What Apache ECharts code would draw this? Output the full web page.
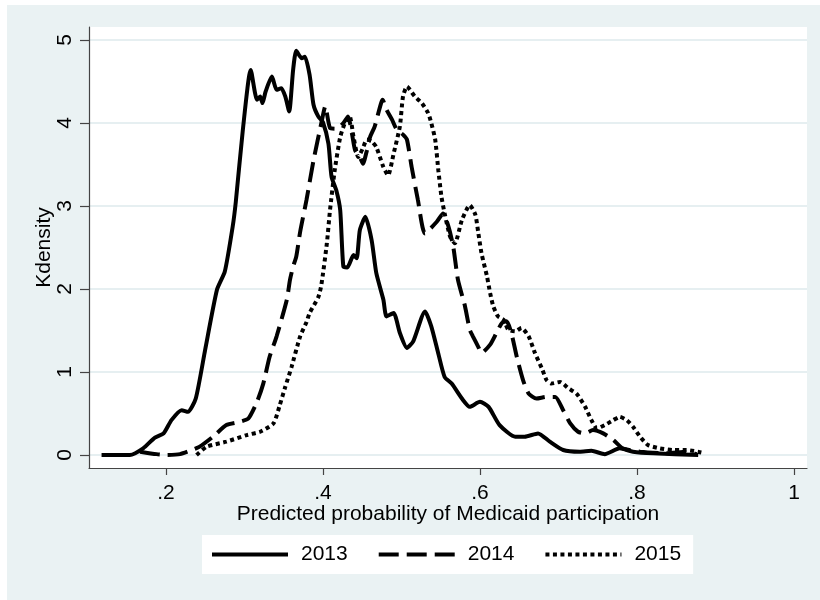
<!DOCTYPE html>
<html>
<head>
<meta charset="utf-8">
<script src="https://cdn.jsdelivr.net/npm/echarts@6/dist/echarts.min.js"></script>
<style>
html,body{margin:0;padding:0;background:#fff;}
#bg{position:absolute;left:7px;top:5px;width:813px;height:595px;background:#EAF2F3;}
#chart{position:absolute;left:0;top:0;width:820px;height:600px;}
</style>
</head>
<body>
<div id="bg"></div>
<div id="chart"></div>
<script>
// Series names
const seriesNames = ['2013', '2014', '2015'];

// Tick values
const xTicks = [0.2, 0.4, 0.6, 0.8, 1];
const yTicks = [0, 1, 2, 3, 4, 5];

// Kernel density estimates: [x, density]
const d2013 = [
  [0.118,0],[0.154,0],[0.171,0.08],[0.186,0.21],[0.197,0.26],[0.207,0.42],[0.220,0.54],[0.228,0.52],
  [0.238,0.68],[0.250,1.27],[0.265,1.99],[0.275,2.21],[0.285,2.75],[0.289,3.05],[0.298,3.92],[0.308,4.64],
  [0.316,4.28],[0.320,4.32],[0.323,4.24],[0.327,4.38],[0.335,4.56],[0.341,4.40],[0.347,4.42],[0.352,4.32],
  [0.357,4.14],[0.362,4.64],[0.366,4.87],[0.373,4.78],[0.377,4.80],[0.383,4.58],[0.388,4.22],[0.394,4.08],
  [0.400,4.01],[0.407,3.75],[0.411,3.35],[0.417,3.19],[0.422,2.95],[0.426,2.27],[0.431,2.26],[0.439,2.41],
  [0.443,2.37],[0.447,2.71],[0.454,2.87],[0.462,2.59],[0.468,2.19],[0.477,1.87],[0.481,1.67],[0.490,1.71],
  [0.498,1.47],[0.507,1.29],[0.515,1.37],[0.530,1.73],[0.538,1.55],[0.547,1.22],[0.555,0.94],[0.564,0.86],
  [0.577,0.68],[0.587,0.58],[0.600,0.64],[0.611,0.58],[0.625,0.36],[0.645,0.22],[0.657,0.22],[0.674,0.26],
  [0.689,0.16],[0.706,0.06],[0.727,0.04],[0.742,0.05],[0.759,0.01],[0.778,0.08],[0.795,0.04],[0.821,0.02],
  [0.878,0.0]
];
const d2014 = [
  [0.167,0.04],[0.188,0.01],[0.200,0.0],[0.218,0.01],[0.233,0.06],[0.243,0.10],[0.260,0.22],[0.277,0.36],
  [0.294,0.40],[0.305,0.44],[0.316,0.64],[0.324,0.86],[0.332,1.18],[0.341,1.43],[0.354,1.87],[0.358,2.11],
  [0.362,2.27],[0.366,2.39],[0.371,2.69],[0.379,3.07],[0.388,3.55],[0.398,4.00],[0.403,4.20],[0.409,3.94],
  [0.417,3.93],[0.426,4.00],[0.432,4.08],[0.437,3.87],[0.441,3.67],[0.447,3.59],[0.451,3.51],[0.456,3.67],
  [0.460,3.83],[0.466,3.96],[0.470,4.10],[0.476,4.28],[0.481,4.16],[0.488,4.04],[0.494,3.92],[0.502,3.86],
  [0.507,3.80],[0.513,3.47],[0.521,3.07],[0.530,2.67],[0.545,2.81],[0.553,2.91],[0.560,2.75],[0.566,2.51],
  [0.572,2.11],[0.581,1.79],[0.587,1.51],[0.591,1.43],[0.598,1.30],[0.602,1.23],[0.613,1.33],[0.621,1.47],
  [0.628,1.59],[0.634,1.61],[0.640,1.47],[0.647,1.18],[0.655,0.90],[0.662,0.74],[0.672,0.68],[0.685,0.70],
  [0.696,0.70],[0.706,0.54],[0.715,0.38],[0.725,0.28],[0.734,0.26],[0.744,0.30],[0.757,0.26],[0.770,0.18],
  [0.782,0.08],[0.804,0.04],[0.838,0.02],[0.863,0.04],[0.876,0.01]
];
const d2015 = [
  [0.239,0.0],[0.252,0.10],[0.277,0.16],[0.303,0.24],[0.320,0.28],[0.337,0.38],[0.345,0.60],[0.352,0.82],
  [0.360,1.06],[0.371,1.43],[0.379,1.60],[0.383,1.71],[0.394,1.90],[0.398,2.05],[0.405,2.55],[0.409,2.95],
  [0.415,3.43],[0.422,3.83],[0.428,4.00],[0.434,4.08],[0.439,3.83],[0.445,3.59],[0.451,3.70],[0.456,3.80],
  [0.462,3.78],[0.468,3.71],[0.477,3.47],[0.483,3.37],[0.490,3.63],[0.498,3.96],[0.502,4.32],[0.507,4.44],
  [0.517,4.32],[0.526,4.24],[0.534,4.12],[0.538,4.00],[0.543,3.80],[0.547,3.43],[0.551,3.11],[0.555,2.91],
  [0.562,2.63],[0.568,2.55],[0.577,2.83],[0.587,3.01],[0.594,2.90],[0.598,2.67],[0.602,2.43],[0.609,2.15],
  [0.613,1.95],[0.617,1.79],[0.623,1.67],[0.630,1.63],[0.636,1.51],[0.645,1.49],[0.653,1.53],[0.662,1.43],
  [0.670,1.23],[0.679,1.04],[0.685,0.90],[0.691,0.86],[0.702,0.88],[0.713,0.80],[0.723,0.74],[0.734,0.58],
  [0.742,0.42],[0.749,0.32],[0.759,0.36],[0.770,0.42],[0.778,0.46],[0.787,0.42],[0.795,0.34],[0.804,0.22],
  [0.814,0.12],[0.829,0.08],[0.846,0.06],[0.863,0.06],[0.882,0.03]
];

const FONT = 'Liberation Sans, Arial, Helvetica, sans-serif';
const lineTypes = ['solid', [20, 8], [4, 3.5]];
const datasets = [d2013, d2014, d2015];

const chart = echarts.init(document.getElementById('chart'), null, {renderer: 'canvas'});
chart.setOption({
  backgroundColor: 'transparent',
  animation: false,
  textStyle: {fontFamily: FONT},
  grid: {
    left: 89, right: 13, top: 27, bottom: 132,
    show: true, backgroundColor: '#ffffff', borderWidth: 0
  },
  xAxis: {
    type: 'value',
    min: 0.102, max: 1.0166,
    name: 'Predicted probability of Medicaid participation',
    nameLocation: 'middle',
    nameGap: 36,
    nameMoveOverlap: false,
    nameTextStyle: {fontSize: 21, color: '#000', fontFamily: FONT},
    axisLine: {show: true, onZero: false, lineStyle: {color: '#444', width: 1.2}},
    axisTick: {show: true, length: 7, customValues: xTicks, lineStyle: {color: '#444', width: 1.2}},
    axisLabel: {
      customValues: xTicks,
      fontSize: 21, color: '#000', fontFamily: FONT, margin: 15,
      formatter: v => (v === 1 ? '1' : String(+v.toFixed(2)).replace(/^0/, ''))
    },
    splitLine: {show: false}
  },
  yAxis: {
    type: 'value',
    min: -0.157, max: 5.157,
    name: 'Kdensity',
    nameLocation: 'middle',
    nameGap: 34,
    nameMoveOverlap: false,
    nameTextStyle: {fontSize: 21, color: '#000', fontFamily: FONT},
    axisLine: {show: true, onZero: false, lineStyle: {color: '#444', width: 1.2}},
    axisTick: {show: true, length: 9, customValues: yTicks, lineStyle: {color: '#444', width: 1.2}},
    axisLabel: {
      customValues: yTicks,
      rotate: 90, fontSize: 21, color: '#000', fontFamily: FONT, margin: 13,
      formatter: v => String(v)
    },
    splitLine: {show: true, lineStyle: {color: '#E6EFF1', width: 2}}
  },
  legend: {
    data: seriesNames,
    left: 202, top: 535,
    backgroundColor: '#ffffff',
    padding: [9, 12, 9, 8],
    itemGap: 29,
    itemWidth: 76,
    itemHeight: 14,
    itemStyle: {opacity: 0},
    lineStyle: {width: 4},
    textStyle: {fontSize: 21, color: '#000', fontFamily: FONT, padding: [0, 0, 0, 8]}
  },
  series: datasets.map((d, i) => ({
    name: seriesNames[i],
    type: 'line',
    data: d,
    symbol: 'none',
    smooth: 0.2,
    lineStyle: {color: '#000', width: 4, type: lineTypes[i], cap: 'butt'},
    itemStyle: {color: '#000'}
  }))
});
</script>
</body>
</html>
